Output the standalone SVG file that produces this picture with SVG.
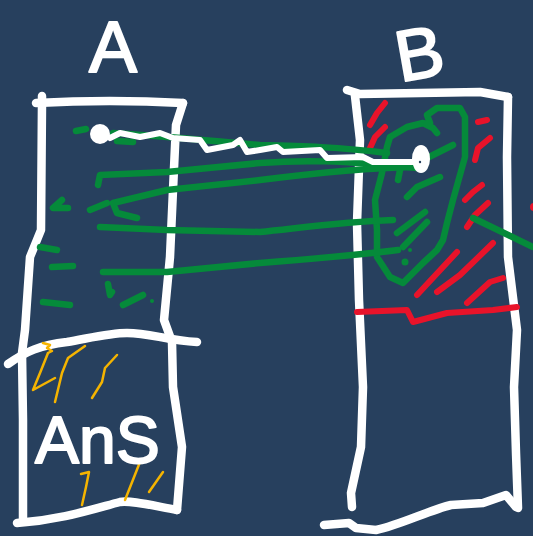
<svg xmlns="http://www.w3.org/2000/svg" width="533" height="536" viewBox="0 0 533 536">
<style>
.w{fill:none;stroke:#fff;stroke-width:8.5;stroke-linecap:round;stroke-linejoin:round}
.wt{fill:none;stroke:#fff;stroke-width:6;stroke-linecap:round;stroke-linejoin:round}
.g{fill:none;stroke:#058a3a;stroke-width:6.5;stroke-linecap:round;stroke-linejoin:round}
.r{fill:none;stroke:#e8132a;stroke-width:6;stroke-linecap:round;stroke-linejoin:round}
.y{fill:none;stroke:#f5b400;stroke-width:2.5;stroke-linecap:round;stroke-linejoin:round}
.lbl{font-family:"Liberation Sans",Arial,sans-serif;fill:#fff;stroke:#fff;stroke-width:2;stroke-linejoin:round}
</style>
<rect width="533" height="536" fill="#27405e"/>
<g id="label-A"><text class="lbl" x="89" y="72" font-size="72">A</text></g>
<g id="label-B"><text class="lbl" x="0" y="0" font-size="72" transform="translate(400,82) rotate(-10)">B</text></g>
<g id="boxA">
<path class="w" d="M36,103 Q110,99 183,103"/>
<path class="w" d="M183,103 L176,125 L173,190 L170,257 L164,320 L172,342 L173,387 L182,447 L177,510"/>
<path class="w" d="M177,510 C150,505 130,500 120,502 C90,510 60,520 17,523"/>
<path class="w" d="M42,96 L42,103 L41,230 L30,257 L25,330 L22,353 L23,420 L23,520"/>
<path class="w" d="M8,364 C25,352 40,345 67,342 C90,338 110,333 127,333 C150,333 165,340 197,342"/>
<g id="A-hatch">
<path class="g" d="M76,131 L86,129"/>
<path class="g" d="M117,141 L133,142"/>
<path class="g" d="M62,200 L53,208 L68,208"/>
<path class="g" d="M90,210 L107,203"/>
<path class="g" d="M40,247 L57,250"/>
<path class="g" d="M52,267 L73,266"/>
<path class="g" d="M43,302 L70,305"/>
<path class="g" d="M108,284 L110,295 L112,292"/>
<path class="g" d="M123,305 L143,295"/>
<circle cx="152" cy="301" r="2" fill="#058a3a"/>
</g>
</g>
<g id="ans">
<g id="ans-hatch">
<path class="y" d="M43,343 L50,345 L47,348 L52,351 L48,353"/>
<path class="y" d="M48,353 L40,373 L33,390 L55,378"/>
<path class="y" d="M55,402 L62,373 L68,358 L85,346"/>
<path class="y" d="M92,398 L102,382 L105,368 L117,355"/>
<path class="y" d="M81,474 L89,472 L86,487 L82,505"/>
<path class="y" d="M125,500 L140,462"/>
<path class="y" d="M149,492 L163,472"/>
</g>
<text class="lbl" x="35" y="463" font-size="66">AnS</text>
</g>
<g id="boxB">
<path class="w" d="M347,90 L360,94 L480,92 L508,97"/>
<path class="w" d="M508,97 L507,157 L508,257 L517,330 L514,387 L516,453 L518,508"/>
<path class="w" d="M355,96 L360,140 L357,223 L359,300 L363,387 L361,447 L351,493 L352,507"/>
<path class="w" d="M324,525 L349,523 L356,528 L376,530 C400,525 430,510 451,505 L483,503 L506,495 L516,507"/>
<g id="B-red">
<path class="r" d="M370,125 L377,113 L385,103"/>
<path class="r" d="M370,148 L375,137 L385,127"/>
<path class="r" d="M478,122 L487,120"/>
<path class="r" d="M475,160 L478,148 L490,138"/>
<path class="r" d="M465,200 L473,192 L482,185"/>
<path class="r" d="M467,227 L475,215 L488,203"/>
<path class="r" d="M417,295 L457,252"/>
<path class="r" d="M437,292 L460,275 L493,243"/>
<path class="r" d="M467,303 L490,282 L503,278"/>
<circle cx="534" cy="207" r="4" fill="#e8132a"/>
<path class="r" stroke-width="8" d="M357,312 L407,310 L413,322 L447,313 L493,310 L517,307"/>
</g>
<g id="B-green">
<path class="g" d="M430,123 L427,115 L437,108 L460,108 L465,117 L465,157 L453,200 L447,223 L443,240 L437,250 L423,263 L403,283 L390,277 L377,257 L377,230 L375,200 L382,173 L387,147 L390,137 L407,127 L423,123 L433,128 L437,133"/>
<path class="g" stroke-width="4" d="M423,160 L453,145"/>
<path class="g" stroke-width="4" d="M407,197 L417,187 L440,177"/>
<path class="g" stroke-width="4" d="M397,233 L425,212"/>
<path class="g" stroke-width="4" d="M403,247 L427,222"/>
<path class="g" stroke-width="4" d="M398,180 L400,170"/>
<circle cx="410" cy="250" r="2" fill="#058a3a"/>
<circle cx="405" cy="262" r="3.5" fill="#058a3a"/>
</g>
</g>
<g id="connectors">
<path class="g" d="M113,133 C150,135 200,140 260,145 C300,146 340,147 387,153"/>
<path class="g" d="M98,185 L100,175 L167,172 L260,163 C300,160 340,160 417,168"/>
<path class="g" d="M137,218 L117,213 L113,203 L167,190 L260,180 C300,175 360,168 413,167"/>
<path class="g" d="M100,227 L167,230 L260,232 C300,228 340,222 393,220"/>
<path class="g" d="M103,272 L167,272 L260,263 C300,260 340,257 398,250"/>
<path class="g" d="M473,218 L533,247"/>
<circle cx="100" cy="134" r="10" fill="#fff"/>
<path class="wt" d="M110,138 L120,133 L140,137 L160,133 L173,138 L200,140 L207,150 L233,145 L240,140 L247,152 L260,150 L277,147 L283,152 L320,150 L327,158 L363,157 L373,162 L413,162"/>
<ellipse cx="421" cy="159" rx="9" ry="14" fill="#fff"/>
<circle cx="420" cy="162" r="1.2" fill="#27405e"/>
</g>
</svg>
